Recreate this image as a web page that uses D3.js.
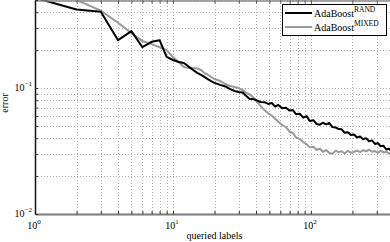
<!DOCTYPE html>
<html>
<head>
<meta charset="utf-8">
<script src="https://cdn.jsdelivr.net/npm/d3@7"></script>
<style>
  body { margin: 0; background: #fff; }
  svg { display: block; }
  text { font-family: "Liberation Serif", "DejaVu Serif", serif; fill: #000; }
</style>
</head>
<body>
<svg id="chart" width="390" height="242"></svg>
<script>
// number of queried labels (x values shared by both series)
var queried = [1, 2, 3, 4, 5, 6, 7, 8, 9, 10, 11, 12, 13, 14, 15, 16, 17, 18, 19, 20,
  22, 24, 26, 28, 30, 32, 34, 36, 38, 40, 43, 46, 49, 52, 55, 58, 62, 66, 70, 74, 78,
  83, 88, 93, 98, 104, 110, 116, 122, 129, 136, 143, 151, 159, 167, 176, 185, 195,
  205, 216, 227, 239, 251, 264, 277, 291, 305, 320, 336, 352, 369, 386, 400];

// AdaBoost RAND error
var errRand = [0.52, 0.42, 0.403, 0.240, 0.283, 0.211, 0.233, 0.240, 0.177, 0.167,
  0.161, 0.158, 0.148, 0.139, 0.132, 0.127, 0.122, 0.117, 0.113, 0.110,
  0.106, 0.103, 0.098, 0.0947, 0.093, 0.0921, 0.0864, 0.0818, 0.0818, 0.0803,
  0.0775, 0.0772, 0.0748, 0.0760, 0.0712, 0.0735, 0.0690, 0.0698, 0.0662, 0.0668, 0.0620,
  0.0625, 0.0582, 0.0598, 0.0548, 0.0556, 0.0518, 0.0512, 0.0530, 0.0515, 0.0528, 0.0490,
  0.0486, 0.0472, 0.0470, 0.0441, 0.0446, 0.0424, 0.0428, 0.0405, 0.0412, 0.0392, 0.0400,
  0.0378, 0.0384, 0.0360, 0.0366, 0.0345, 0.0348, 0.0325, 0.0330, 0.0312, 0.0316];

// AdaBoost MIXED error
var errMixed = [0.70, 0.50, 0.412, 0.33, 0.273, 0.236, 0.223, 0.211, 0.200, 0.176,
  0.161, 0.147, 0.144, 0.144, 0.143, 0.139, 0.131, 0.127, 0.122, 0.118,
  0.1137, 0.1076, 0.1037, 0.1018, 0.100, 0.0964, 0.0913, 0.0888, 0.0848, 0.0790,
  0.0725, 0.0670, 0.0630, 0.0605, 0.0570, 0.0540, 0.0508, 0.0490, 0.0450, 0.0440, 0.0405,
  0.0395, 0.0372, 0.0358, 0.0338, 0.0342, 0.0322, 0.0330, 0.0312, 0.0322, 0.0305, 0.0300,
  0.0318, 0.0310, 0.0315, 0.0302, 0.0318, 0.0306, 0.0312, 0.0318, 0.0310, 0.0322, 0.0314,
  0.0324, 0.0312, 0.0316, 0.0306, 0.0318, 0.0308, 0.0312, 0.0302, 0.0308, 0.0304];

var seriesNames = ["RAND", "MIXED"];
var xMajor = [1, 10, 100];
var yMajor = [0.01, 0.1];
var xTicks = [1, 2, 3, 4, 5, 6, 7, 8, 9, 10, 20, 30, 40, 50, 60, 70, 80, 90, 100, 200, 300, 400];
var yTicks = [0.01, 0.02, 0.03, 0.04, 0.05, 0.06, 0.07, 0.08, 0.09, 0.1, 0.2, 0.3, 0.4, 0.5];

var svg = d3.select("#chart");

// plot area (right and top edges run past the picture, like the original)
var plotLeft = 35, plotRight = 394, plotTop = 0, plotBottom = 214;

var x = d3.scaleLog().domain([1, 400]).range([plotLeft, plotRight]);
var y = d3.scaleLog().domain([0.01, 0.5]).range([plotBottom, plotTop]);

// dotted grid
var grid = svg.append("g")
    .attr("stroke", "#b4b4b4")
    .attr("stroke-width", 1)
    .attr("stroke-dasharray", "1,2");

grid.selectAll("line.vx")
    .data(xTicks.filter(function(d) { return d > 1; }))
    .enter().append("line")
    .attr("class", "vx")
    .attr("x1", function(d) { return Math.round(x(d)) + 0.5; })
    .attr("x2", function(d) { return Math.round(x(d)) + 0.5; })
    .attr("y1", plotTop)
    .attr("y2", plotBottom);

grid.selectAll("line.hy")
    .data(yTicks.filter(function(d) { return d > 0.01; }))
    .enter().append("line")
    .attr("class", "hy")
    .attr("x1", plotLeft)
    .attr("x2", plotRight)
    .attr("y1", function(d) { return Math.round(y(d)) + 0.5; })
    .attr("y2", function(d) { return Math.round(y(d)) + 0.5; });

// lines
svg.append("clipPath").attr("id", "plotclip")
  .append("rect")
    .attr("x", plotLeft).attr("y", plotTop)
    .attr("width", plotRight - plotLeft).attr("height", plotBottom - plotTop);

var line = d3.line()
    .x(function(d) { return x(d[0]); })
    .y(function(d) { return y(d[1]); });

var lines = svg.append("g").attr("clip-path", "url(#plotclip)");

lines.append("path")
    .datum(queried.map(function(q, i) { return [q, errMixed[i]]; }))
    .attr("fill", "none")
    .attr("stroke", "#9a9a9a")
    .attr("stroke-width", 2)
    .attr("stroke-linejoin", "round")
    .attr("d", line);

lines.append("path")
    .datum(queried.map(function(q, i) { return [q, errRand[i]]; }))
    .attr("fill", "none")
    .attr("stroke", "#000")
    .attr("stroke-width", 2)
    .attr("stroke-linejoin", "round")
    .attr("d", line);

// axes
function supLabel(sel, exp) {
    sel.append("tspan").text("10");
    sel.append("tspan")
        .attr("dy", -5)
        .attr("font-size", 7)
        .text(exp);
}

var xAxis = svg.append("g")
    .attr("transform", "translate(0," + plotBottom + ")")
    .call(d3.axisBottom(x).tickValues(xTicks).tickSizeInner(-3).tickSizeOuter(0).tickFormat(function() { return ""; }));
xAxis.select(".domain").attr("stroke", "#7a7a7a").attr("stroke-width", 2);
xAxis.selectAll(".tick line").attr("stroke", "#333");
xAxis.selectAll(".tick text").remove();

var topAxis = svg.append("g")
    .attr("transform", "translate(0," + (plotTop + 0.5) + ")")
    .call(d3.axisTop(x).tickValues(xTicks).tickSizeInner(-3).tickSizeOuter(0).tickFormat(function() { return ""; }));
topAxis.select(".domain").attr("stroke", "#8a8a8a").attr("stroke-width", 1.5);
topAxis.selectAll(".tick line").attr("stroke", "#555");
topAxis.selectAll(".tick text").remove();

var yAxis = svg.append("g")
    .attr("transform", "translate(" + plotLeft + ",0)")
    .call(d3.axisLeft(y).tickValues(yTicks).tickSizeInner(-3).tickSizeOuter(0).tickFormat(function() { return ""; }));
yAxis.select(".domain").attr("stroke", "#111").attr("stroke-width", 1.5);
yAxis.selectAll(".tick line").attr("stroke", "#333");
yAxis.selectAll(".tick text").remove();

// tick labels with superscripts
svg.append("g").selectAll("text")
    .data(xMajor)
    .enter().append("text")
    .attr("x", function(d) { return x(d) - 1; })
    .attr("y", 229)
    .attr("font-size", 10)
    .attr("text-anchor", "middle")
    .each(function(d) { supLabel(d3.select(this), Math.round(Math.log10(d))); });

svg.append("g").selectAll("text")
    .data(yMajor)
    .enter().append("text")
    .attr("x", 32)
    .attr("y", function(d) { return y(d) + 3; })
    .attr("font-size", 10)
    .attr("text-anchor", "end")
    .each(function(d) { supLabel(d3.select(this), "\u2212" + Math.round(-Math.log10(d))); });

// axis titles
svg.append("text")
    .attr("x", (plotLeft + plotRight) / 2)
    .attr("y", 239)
    .attr("font-size", 10)
    .attr("text-anchor", "middle")
    .text("queried labels");

svg.append("text")
    .attr("transform", "translate(8,103) rotate(-90)")
    .attr("font-size", 10)
    .attr("text-anchor", "middle")
    .text("error");

// legend
var legend = svg.append("g");
legend.append("rect")
    .attr("x", 282.5).attr("y", 4.5)
    .attr("width", 104).attr("height", 31)
    .attr("fill", "#fff")
    .attr("stroke", "#000")
    .attr("stroke-width", 1);

var legendColors = ["#000", "#9a9a9a"];
seriesNames.forEach(function(name, i) {
    var ly = 13 + i * 14;
    legend.append("line")
        .attr("x1", 285).attr("x2", 312)
        .attr("y1", ly).attr("y2", ly)
        .attr("stroke", legendColors[i])
        .attr("stroke-width", 2);
    var t = legend.append("text")
        .attr("x", 314)
        .attr("y", ly + 4)
        .attr("font-size", 10);
    t.append("tspan").text("AdaBoost");
    t.append("tspan").attr("dy", -5).attr("font-size", 7.5).text(name);
});
</script>
</body>
</html>
